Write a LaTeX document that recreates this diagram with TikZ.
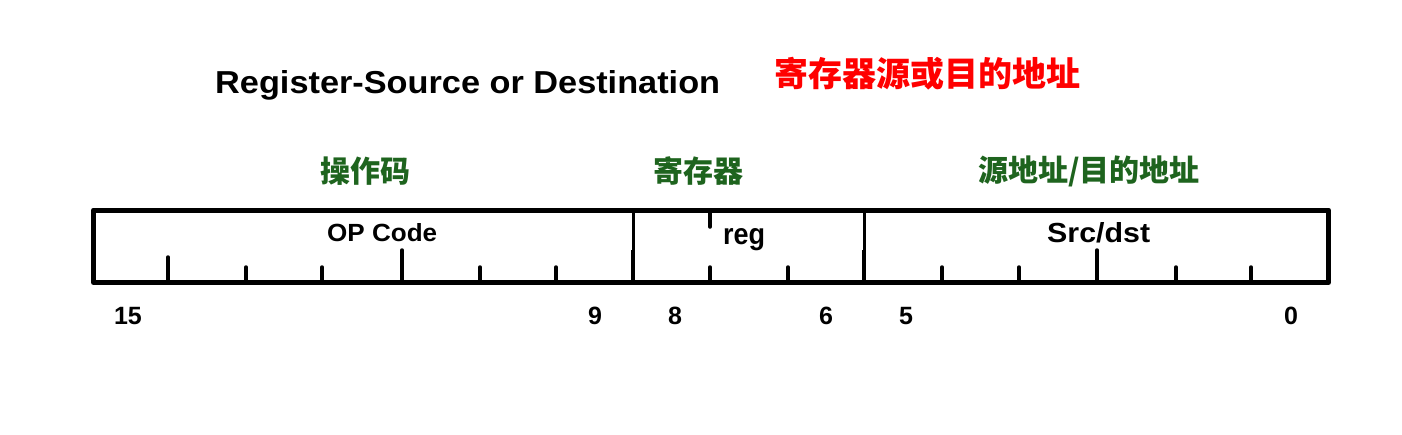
\documentclass[tikz,border=0pt]{standalone}
\usepackage{fontspec}
\usepackage{graphicx}
\setmainfont{Liberation Sans}
\newfontfamily\cjk{Noto Sans CJK SC}
\definecolor{labelgreen}{RGB}{30,100,30}
\definecolor{titlered}{RGB}{255,0,0}
\begin{document}
\begin{tikzpicture}[x=1pt,y=-1pt,
  frame/.style={line width=5pt,line join=round},
  divider/.style={line width=3pt},
  tick/.style={line width=3.5pt,line cap=round},
  latin/.style={inner sep=0pt,font=\bfseries,anchor=base west},
  bitnum/.style={inner sep=0pt,font=\bfseries\fontsize{25}{25}\selectfont,anchor=base},
  cjkgreen/.style={inner sep=0pt,text=labelgreen,font=\cjk\bfseries\fontsize{30}{30}\selectfont},
  cjkred/.style={inner sep=0pt,text=titlered,font=\cjk\bfseries\fontsize{34}{34}\selectfont}]
\useasboundingbox[fill=white] (0,0) rectangle (1402,434);
% titles
\node[latin] (title) at (215,93) {\resizebox{505pt}{23pt}{Register-Source or Destination}};
\node[cjkred] (ctitle) at (927.5,73.5) {寄存器源或目的地址};
\node[cjkgreen] (gop) at (365,171.5) {操作码};
\node[cjkgreen] (greg) at (698.5,171.5) {寄存器};
\node[cjkgreen] (gsrc) at (1089,171.5) {源地址/目的地址};
% frame
\draw[frame] (93.5,210) rectangle (1328.5,282.5);
\coordinate (d1t) at (633,210); \coordinate (d1b) at (633,282.5); \coordinate (d1m) at (633,250);
\coordinate (d2t) at (864,210); \coordinate (d2b) at (864,282.5); \coordinate (d2m) at (864,250);
\draw[divider] (d1t) -- (d1b);
\draw[divider] (d2t) -- (d2b);
\draw[line width=4pt] (d1m) -- (d1b);
\draw[line width=4pt] (d2m) -- (d2b);
% ticks
\foreach \x/\top in {168/257,246/267,322/267,402/250,480/267,556/267,
                     710/267,788/267,
                     942/267,1019/267,1097/250,1176/267,1251/267}{
  \draw[tick] (\x,282) -- (\x,\top);
}
\draw[tick] (710,211) -- (710,227);
% field labels
\node[latin] (opcode) at (327,241) {\resizebox{110pt}{18pt}{OP Code}};
\node[latin] (reg) at (723,244) {\resizebox{42pt}{16pt}{reg}};
\node[latin] (srcdst) at (1047,242) {\resizebox{103pt}{20pt}{Src/dst}};
% bit numbers
\node[bitnum] (b15) at (128,324) {15};
\node[bitnum] (b9) at (595,324) {9};
\node[bitnum] (b8) at (675,324) {8};
\node[bitnum] (b6) at (826,324) {6};
\node[bitnum] (b5) at (906,324) {5};
\node[bitnum] (b0) at (1291,324) {0};
\end{tikzpicture}
\end{document}
